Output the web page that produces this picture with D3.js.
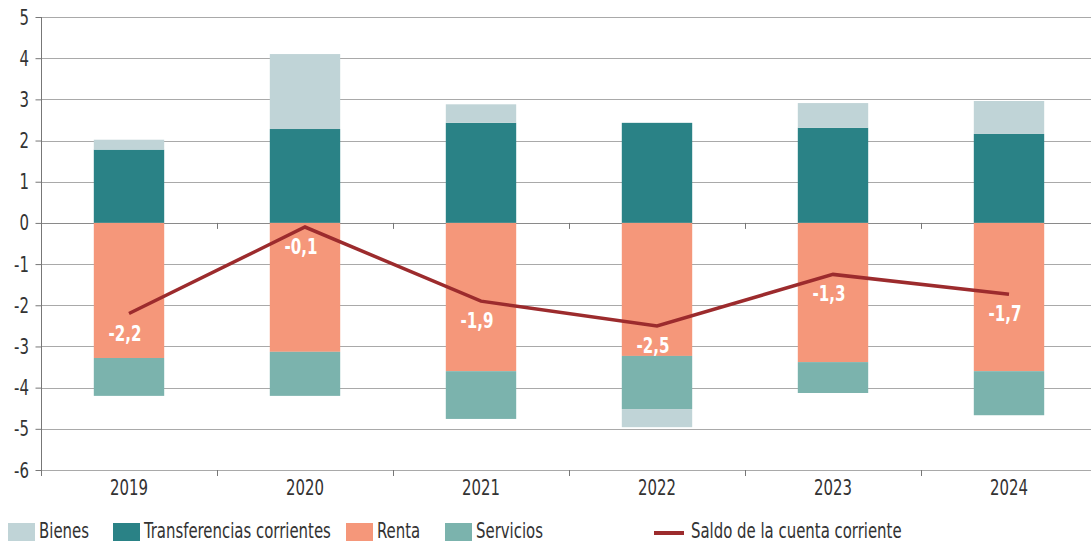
<!DOCTYPE html>
<html>
<head>
<meta charset="utf-8">
<script src="https://cdn.jsdelivr.net/npm/d3@7"></script>
<style>
  html, body { margin: 0; padding: 0; background: #fff; }
  svg text { font-family: "DejaVu Sans Condensed", "DejaVu Sans", sans-serif; font-stretch: condensed; }
</style>
</head>
<body>
<svg id="chart" width="1091" height="541"></svg>
<script>
// ---- data ----
const years = ["2019", "2020", "2021", "2022", "2023", "2024"];
const bienes = [0.24, 1.82, 0.45, -0.44, 0.60, 0.80];
const transferencias = [1.78, 2.28, 2.43, 2.43, 2.31, 2.16];
const renta = [-3.28, -3.13, -3.60, -3.23, -3.38, -3.60];
const servicios = [-0.92, -1.07, -1.16, -1.29, -0.75, -1.07];
const saldo = [-2.2, -0.1, -1.9, -2.5, -1.25, -1.73];
const saldoLabels = ["-2,2", "-0,1", "-1,9", "-2,5", "-1,3", "-1,7"];
const yTicks = [5, 4, 3, 2, 1, 0, -1, -2, -3, -4, -5, -6];
const seriesNames = ["Bienes", "Transferencias corrientes", "Renta", "Servicios"];
const lineName = "Saldo de la cuenta corriente";

const colors = {
  "Bienes": "#c0d4d7",
  "Transferencias corrientes": "#2a8286",
  "Renta": "#f5977a",
  "Servicios": "#7bb3ad"
};
const lineColor = "#9c2b2d";

const W = 1091, H = 541;
const svg = d3.select("#chart");

// calibrate a horizontal squeeze so the fallback font looks condensed
function measure(txt, size, weight) {
  const t = svg.append("text").style("font-size", size + "px").style("font-weight", weight).text(txt);
  const w = t.node().getComputedTextLength();
  t.remove();
  return w;
}
const FS = 21;
const sxReg = 38 / measure("2019", FS, "normal");
const sxBold = 33 / measure("-2,2", FS, "bold");

function addText(parent, txt, px, py, anchor, opts) {
  opts = opts || {};
  const sx = opts.bold ? sxBold : sxReg;
  return parent.append("text")
    .attr("transform", `translate(${px},${py}) scale(${sx},1)`)
    .attr("text-anchor", anchor)
    .attr("fill", opts.fill || "#333")
    .style("font-size", FS + "px")
    .style("font-weight", opts.bold ? "bold" : "normal")
    .attr("dy", opts.dy || 0)
    .text(txt);
}

const x = d3.scaleBand().domain(years).range([41, 1097]).paddingInner(0.6).paddingOuter(0.3);
const y = d3.scaleLinear().domain([-6, 5]).range([470, 17]);

// table for stacking
const table = years.map((yr, i) => ({
  year: yr,
  "Bienes": bienes[i],
  "Transferencias corrientes": transferencias[i],
  "Renta": renta[i],
  "Servicios": servicios[i]
}));
const stackKeys = ["Transferencias corrientes", "Renta", "Servicios", "Bienes"];
const stacked = d3.stack().keys(stackKeys).offset(d3.stackOffsetDiverging)(table);

// gridlines
svg.append("g").selectAll("line").data(yTicks).join("line")
  .attr("x1", 41).attr("x2", W)
  .attr("y1", d => Math.round(y(d)) + 0.5).attr("y2", d => Math.round(y(d)) + 0.5)
  .attr("stroke", d => d === 0 ? "#8a8a8a" : "#a9a9a9").attr("stroke-width", 1);

// bars
const gBars = svg.append("g");
stacked.forEach(s => {
  gBars.append("g").attr("fill", colors[s.key]).selectAll("rect").data(s).join("rect")
    .attr("x", d => x(d.data.year))
    .attr("width", x.bandwidth())
    .attr("y", d => y(Math.max(d[0], d[1])))
    .attr("height", d => Math.abs(y(d[0]) - y(d[1])));
});

// y axis
const yAxis = d3.axisLeft(y).tickValues(yTicks).tickSize(6).tickFormat("");
const gy = svg.append("g").attr("transform", "translate(41.5,0)").call(yAxis);
gy.select(".domain").attr("stroke", "#777").attr("d", `M0,${y(5)}V${y(-6) + 6}`);
gy.selectAll(".tick line").attr("stroke", "#777");
const gyl = svg.append("g");
yTicks.forEach(v => addText(gyl, String(v), 29, y(v), "end", { dy: "0.36em" }));

// category ticks (bottom axis and zero line)
const boundaries = d3.range(years.length + 1).map(i => 41 + i * x.step());
[y(-6), y(0)].forEach(yy => {
  svg.append("g").selectAll("line").data(boundaries.slice(1)).join("line")
    .attr("x1", d => Math.round(d) + 0.5).attr("x2", d => Math.round(d) + 0.5)
    .attr("y1", yy).attr("y2", yy + 6)
    .attr("stroke", "#777");
});

// x labels
const gx = svg.append("g");
years.forEach(yr => addText(gx, yr, x(yr) + x.bandwidth() / 2, 495, "middle"));

// line
const line = d3.line().x((d, i) => x(years[i]) + x.bandwidth() / 2).y(d => y(d));
svg.append("path").datum(saldo)
  .attr("d", line)
  .attr("fill", "none").attr("stroke", lineColor).attr("stroke-width", 3.5)
  .attr("stroke-linejoin", "miter");

// line labels
const glab = svg.append("g");
saldo.forEach((v, i) => addText(glab, saldoLabels[i], x(years[i]) + x.bandwidth() / 2 - 4, y(v) + 27, "middle", { bold: true, fill: "#fff" }));

// legend
const legendItems = [
  { name: "Bienes", type: "rect", x: 8 },
  { name: "Transferencias corrientes", type: "rect", x: 113 },
  { name: "Renta", type: "rect", x: 346 },
  { name: "Servicios", type: "rect", x: 445 },
  { name: lineName, type: "line", x: 654 }
];
const gl = svg.append("g");
legendItems.forEach(it => {
  if (it.type === "rect") {
    gl.append("rect").attr("x", it.x).attr("y", 523).attr("width", 27).attr("height", 18).attr("fill", colors[it.name]);
    addText(gl, it.name, it.x + 31, 538, "start");
  } else {
    gl.append("line").attr("x1", it.x).attr("x2", it.x + 30).attr("y1", 533).attr("y2", 533)
      .attr("stroke", lineColor).attr("stroke-width", 4);
    addText(gl, it.name, it.x + 37, 538, "start");
  }
});
</script>
</body>
</html>
